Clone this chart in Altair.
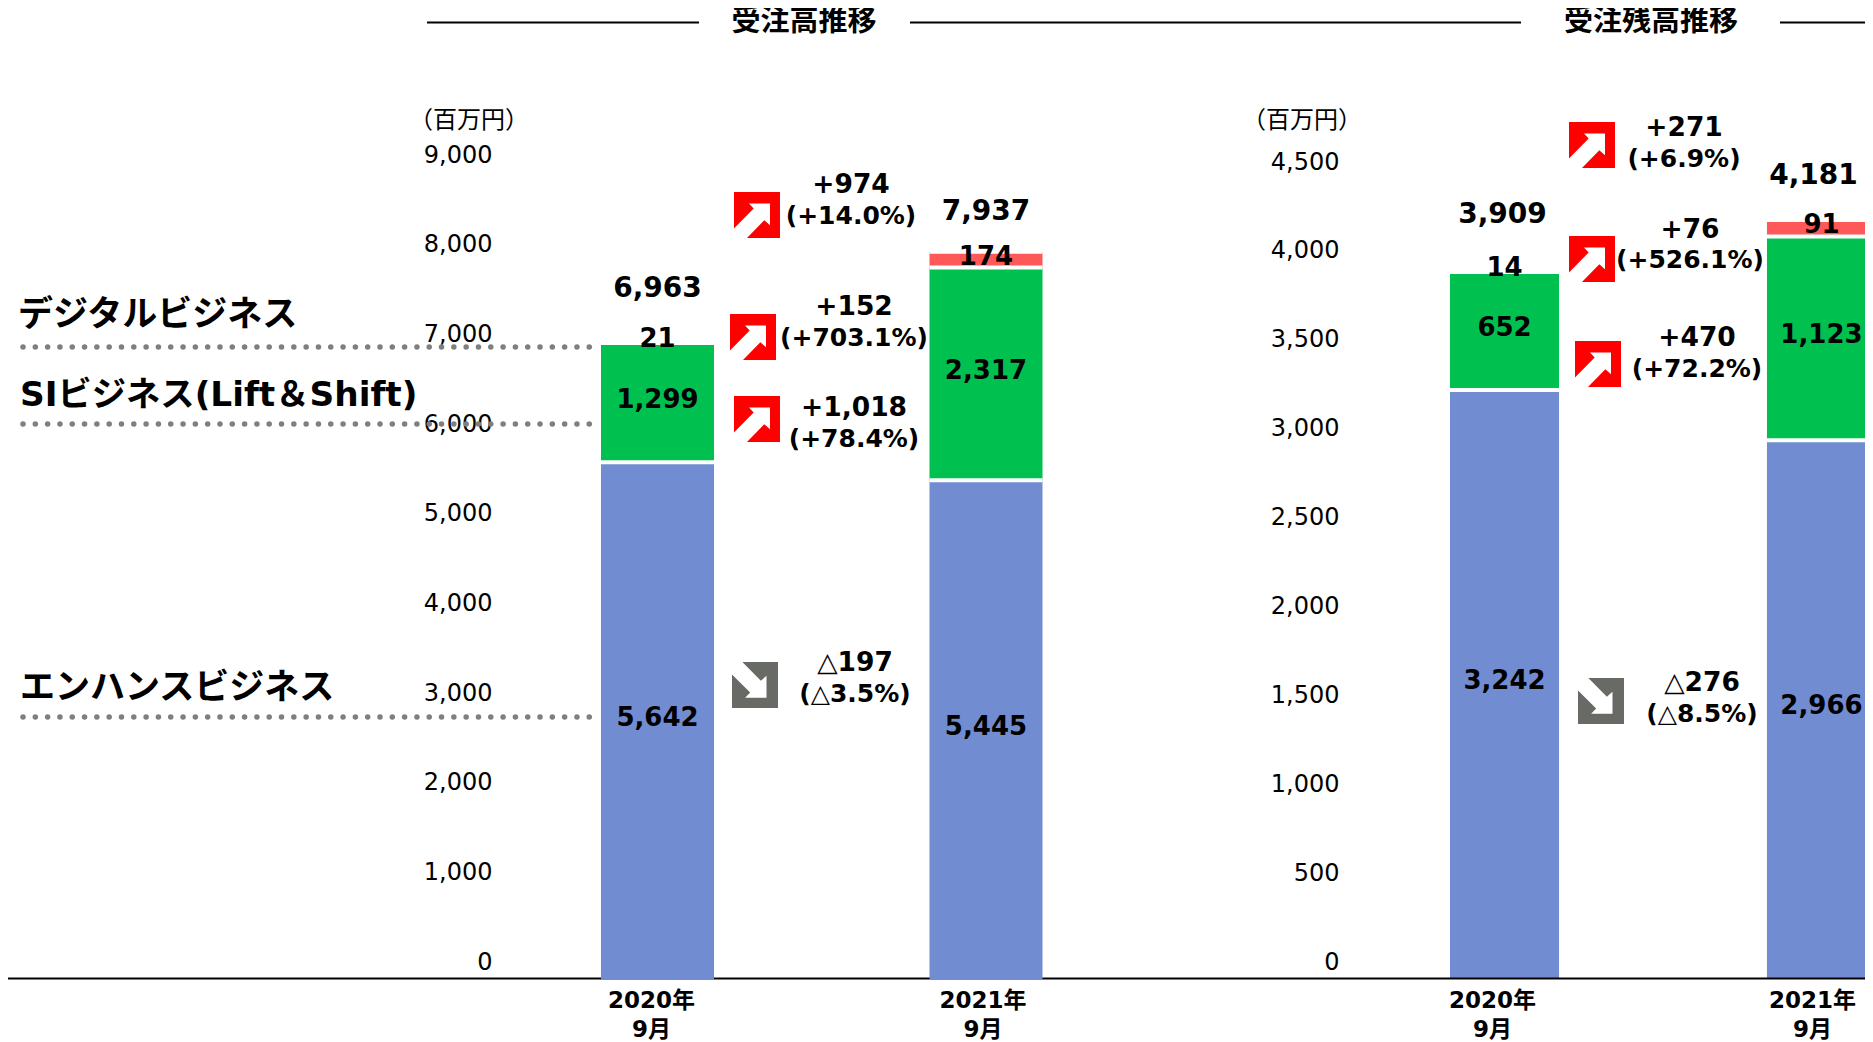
import altair as alt
import pandas as pd

W, H = 1857, 1034
FONT = 'DejaVu Sans, "Noto Sans CJK JP"'
JP = '"Noto Sans CJK JP"'
BLUE, GREEN, SALMON = "#718CD0", "#00C050", "#FF5858"

SERIES = ["エンハンスビジネス", "SIビジネス(Lift＆Shift)", "デジタルビジネス"]
COLORS = [BLUE, GREEN, SALMON]
PERIODS_L = ["2020年\n9月", "2021年\n9月"]
ORDERS_2020 = [5642, 1299, 21]
ORDERS_2021 = [5445, 2317, 174]
ORDER_TOTALS = [6963, 7937]
BACKLOG_2020 = [3242, 652, 14]
BACKLOG_2021 = [2966, 1123, 91]
BACKLOG_TOTALS = [3909, 4181]
TICKS_L = [0, 1000, 2000, 3000, 4000, 5000, 6000, 7000, 8000, 9000]
TICKS_R = [0, 500, 1000, 1500, 2000, 2500, 3000, 3500, 4000, 4500]
DELTA_L = [("+974", "(+14.0%)"), ("+152", "(+703.1%)"), ("+1,018", "(+78.4%)"), ("△197", "(△3.5%)")]
DELTA_R = [("+271", "(+6.9%)"), ("+76", "(+526.1%)"), ("+470", "(+72.2%)"), ("△276", "(△8.5%)")]

UP = "M 0.565 -0.504 L -0.348 -0.504 L -0.145 -0.285 L -1 0.591 L -1 1 L -0.435 1 L 0.319 0.226 L 0.565 0.445 Z"
DOWN = "M -0.55 -1 L 0.255 -0.18 L 0.5 -0.40 L 0.5 0.55 L -0.43 0.55 L -0.21 0.33 L -1 -0.46 L -1 -1 Z"
ONE = pd.DataFrame({"a": [0]})


def seg_frame(periods, a, b):
    rows = []
    for p, vals in zip(periods, (a, b)):
        cum = 0
        for i, v in enumerate(vals):
            rows.append({"period": p, "series": SERIES[i], "rank": i, "value": v,
                         "mid": cum + v / 2, "top": cum + v, "label": f"{v:,}"})
            cum += v
    return pd.DataFrame(rows)


def note(text, x, y, size=25, weight="bold", font=FONT, align="center"):
    return alt.Chart(pd.DataFrame({"t": [text]})).mark_text(
        font=font, fontSize=size, fontWeight=weight, align=align, baseline="middle", color="black"
    ).encode(text="t:N", x=alt.value(x - 8), y=alt.value(y - 8))


def hline(x1, x2, y, color="black", width=2, **kw):
    return alt.Chart(ONE).mark_rule(color=color, strokeWidth=width, **kw).encode(
        x=alt.value(x1 - 8), x2=alt.value(x2 - 8), y=alt.value(y - 8))


def icon(x, y, up=True):
    bg = "#FF0000" if up else "#686A66"
    enc = dict(x=alt.value(x - 8), y=alt.value(y - 8))
    return [
        alt.Chart(ONE).mark_square(size=2116, color=bg, opacity=1, strokeWidth=0).encode(**enc),
        alt.Chart(ONE).mark_point(shape=UP if up else DOWN, size=2116, filled=True, color="white",
                                  opacity=1, strokeWidth=0).encode(**enc),
    ]


def panel(periods, a, b, totals, x_range, y_range, domain_max, bar_w, offs, total_dy, total_dx, axis_off):
    df = seg_frame(periods, a, b)
    xs = alt.Scale(domain=periods, range=x_range, paddingInner=0.656, paddingOuter=0)
    ys = alt.Scale(domain=[0, domain_max], range=y_range, nice=False)
    cond = {"condition": {"test": f"datum.value === {periods[0]!r}", "value": offs[0]}, "value": offs[1]}
    x = alt.X("period:N", scale=xs, sort=periods, axis=alt.Axis(
        title=None, orient="bottom", offset=axis_off, domain=False, ticks=False, labelAngle=0,
        labelPadding=0, labelAlign="center", labelBaseline="top", labelFont=FONT, labelFontSize=23,
        labelFontWeight="bold", labelColor="black", labelLineHeight=29, labelOffset=cond,
        labelExpr="split(datum.label, '\\n')"))
    bars = alt.Chart(df).mark_bar().encode(
        x=x,
        y=alt.Y("value:Q", stack="zero", scale=ys, axis=None),
        color=alt.Color("series:N", scale=alt.Scale(domain=SERIES, range=COLORS), legend=None),
        order=alt.Order("rank:Q"),
    )
    gaps = alt.Chart(df).mark_tick(
        orient="horizontal", color="white", thickness=4, size=bar_w, opacity=1
    ).encode(x=x, y=alt.Y("top:Q", scale=ys, axis=None))
    seg = alt.Chart(df).mark_text(font=FONT, fontSize=26, fontWeight="bold", color="black", dy=-3).encode(
        x=x, y=alt.Y("mid:Q", scale=ys, axis=None), text="label:N")
    tot_df = pd.DataFrame({"period": periods, "total": totals, "label": [f"{t:,}" for t in totals]})
    tots = [
        alt.Chart(tot_df.iloc[[i]]).mark_text(font=FONT, fontSize=28, fontWeight="bold", color="black",
                                              dy=total_dy[i], dx=total_dx[i]).encode(
            x=x, y=alt.Y("total:Q", scale=ys, axis=None), text="label:N")
        for i in range(2)
    ]
    return alt.layer(bars, gaps, seg, *tots)


def tick_axis(ticks, y_range, right_edge):
    return alt.Chart(pd.DataFrame({"v": ticks})).mark_point(opacity=0).encode(
        y=alt.Y("v:Q", scale=alt.Scale(domain=[ticks[0], ticks[-1]], range=y_range, nice=False),
                axis=alt.Axis(title=None, orient="left", offset=-(right_edge - 8), values=ticks, format=",d",
                              domain=False, ticks=False, grid=False, labelPadding=0, labelFont=FONT,
                              labelFontSize=24, labelColor="black", labelBaseline="middle")))


left = panel(PERIODS_L, ORDERS_2020, ORDERS_2021, ORDER_TOTALS, [593, 1034.5], [972, 146], 9000, 113,
             (-6, -3), (-52, -40), (0, 0), -53)
right = panel([p + " " for p in PERIODS_L], BACKLOG_2020, BACKLOG_2021, BACKLOG_TOTALS, [1442, 1868],
              [970, 154], 4500, 109, (-12, -9), (-54, -44), (-2, -8), -53)

layers = [
    right,
    hline(0, 1880, 978.5),
    left,
    tick_axis(TICKS_L, [954, 147], 492),
    tick_axis(TICKS_R, [954, 154], 1339),
    hline(427, 699, 22.5), hline(910, 1521, 22.5), hline(1780, 1880, 22.5),
    note("受注高推移", 804, 22, size=29, font=JP),
    note("受注残高推移", 1651, 22, size=29, font=JP),
    note("（百万円）", 469, 121, size=24, weight="normal", font=JP),
    note("（百万円）", 1302, 121, size=24, weight="normal", font=JP),
    note(SERIES[2], 18, 315, size=35, font=FONT, align="left"),
    note(SERIES[1], 20, 396, size=34.3, font=FONT, align="left"),
    note(SERIES[0], 20, 688, size=35, font=FONT, align="left"),
]
for y in (347, 424, 717):
    layers.append(hline(23, 593, y, color="#7F7F7F", width=5.5, strokeCap="round", strokeDash=[0.01, 12.3]))

for (x, y, up) in [(757, 215, True), (753, 337, True), (757, 419, True), (755, 685, False),
                   (1592, 145, True), (1592, 259, True), (1598, 364, True), (1601, 701, False)]:
    layers += icon(x, y, up)

pos_l = [(851, 185, 216), (854, 307, 338), (854, 408, 439), (855, 663, 694)]
pos_r = [(1684, 128, 159), (1690, 230, 260), (1697, 338, 369), (1702, 683, 714)]
for labels, pos in ((DELTA_L, pos_l), (DELTA_R, pos_r)):
    for (a, b), (x, y1, y2) in zip(labels, pos):
        layers.append(note(a, x, y1, size=26.5))
        layers.append(note(b, x, y2, size=25))

chart = alt.layer(*layers).resolve_scale(x="independent", y="independent", color="shared").properties(
    width=W, height=H, padding=0,
    autosize=alt.AutoSizeParams(type="none", contains="content"),
).configure_view(stroke=None).configure_axis(grid=False)

chart.save("out.html", embed_options={"renderer": "svg", "actions": False})
